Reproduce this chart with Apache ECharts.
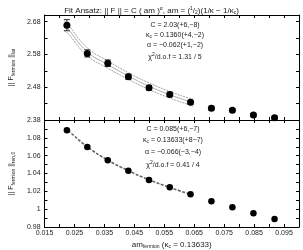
<!DOCTYPE html>
<html>
<head>
    <meta charset="UTF-8">
    <title>Fit Ansatz</title>
    <style>
        html, body { margin: 0; padding: 0; width: 100%; height: 100%; overflow: hidden; background: #fff; }
        #main { width: 303px; height: 250px; }
    </style>
    <script src="https://cdn.jsdelivr.net/npm/echarts@6/dist/echarts.min.js"></script>
</head>
<body>
    <div id="main"></div>
    <script>
        // am_fermion values (kappa_c = 0.13633)
        const amValues = [0.02247, 0.02929, 0.03613, 0.04301, 0.04990, 0.05683, 0.06377, 0.07075, 0.07775, 0.08478, 0.09183];

        // top panel: ||F|| with errors
        const normTop = [2.669, 2.583, 2.553, 2.512, 2.478, 2.458, 2.434, 2.416, 2.410, 2.395, 2.387];
        const errTop = [0.017, 0.011, 0.010, 0.008, 0.007, 0.007, 0.006, 0.006, 0.005, 0.005, 0.005];

        // bottom panel
        const normBottom = [1.0884, 1.0697, 1.0548, 1.0432, 1.0327, 1.0245, 1.0167, 1.0090, 1.0021, 0.9954, 0.9890];

        // fit curves
        const fitTopX = [0.0215, 0.02247, 0.02929, 0.03613, 0.04301, 0.04990, 0.05683, 0.06377, 0.0645];
        const fitTopMid = [2.668, 2.661, 2.588, 2.549, 2.514, 2.483, 2.457, 2.435, 2.433];
        const fitTopHi = [2.683, 2.675, 2.600, 2.560, 2.524, 2.493, 2.467, 2.445, 2.444];
        const fitTopLo = [2.653, 2.647, 2.576, 2.538, 2.504, 2.473, 2.447, 2.425, 2.422];
        const fitBotX = [0.0215, 0.02247, 0.02929, 0.03613, 0.04301, 0.04990, 0.05683, 0.06377];
        const fitBot = [1.0905, 1.0890, 1.0700, 1.0550, 1.0432, 1.0330, 1.0245, 1.0165];

        // ticks and labels
        const xTicks = [0.015, 0.02, 0.025, 0.03, 0.035, 0.04, 0.045, 0.05, 0.055, 0.06, 0.065, 0.07, 0.075, 0.08, 0.085, 0.09, 0.095, 0.1];
        const xLabels = [0.015, 0.025, 0.035, 0.045, 0.055, 0.065, 0.075, 0.085, 0.095];
        const yTopTicks = [2.38, 2.43, 2.48, 2.53, 2.58, 2.63, 2.68];
        const yTopLabels = [2.38, 2.48, 2.58, 2.68];
        const yBotTicks = [0.98, 0.99, 1.0, 1.01, 1.02, 1.03, 1.04, 1.05, 1.06, 1.07, 1.08, 1.09, 1.1];
        const yBotLabels = [0.98, 1.0, 1.02, 1.04, 1.06, 1.08];

        const fitTextTop = ['C = 2.03(+6,\u22128)', '{i|\u03ba}{s|c} = 0.1360(+4,\u22122)', '\u03b1 = \u22120.062(+1,\u22122)', '{i|\u03c7}{p|2}/d.o.f = 1.31 / 5'];
        const fitTextBot = ['C = 0.085(+6,\u22127)', '{i|\u03ba}{s|c} = 0.13633(+8\u22127)', '\u03b1 = \u22120.066(\u22123,\u22124)', '{i|\u03c7}{p|2}/d.o.f = 0.41 / 4'];

        const font = 'Liberation Sans, Arial, sans-serif';
        const ink = '#222';
        const richSmall = {
            s: { fontSize: 5, verticalAlign: 'bottom', padding: [4, 0, 0, 0], fontFamily: font, color: ink },
            p: { fontSize: 5, verticalAlign: 'top', padding: [0, 0, 4, 0], fontFamily: font, color: ink },
            i: { fontSize: 7, fontFamily: font, color: ink }
        };

        function pairs(xs, ys) { return xs.map((x, i) => [x, ys[i]]); }

        function xAxisFor(grid, pos, withLabels) {
            return {
                type: 'value', gridIndex: grid, position: pos, min: 0.015, max: 0.1,
                axisLine: { show: true, onZero: false, lineStyle: { color: '#000', width: 1 } },
                axisTick: { show: true, inside: true, length: 3, customValues: xTicks, lineStyle: { color: '#000' } },
                axisLabel: { show: withLabels, customValues: xLabels, fontSize: 7, color: ink, fontFamily: font, margin: 3,
                    formatter: v => v.toFixed(3) },
                splitLine: { show: false }
            };
        }
        function yAxisFor(grid, pos, min, max, ticks, labels, withLabels, fmt) {
            return {
                type: 'value', gridIndex: grid, position: pos, min: min, max: max,
                axisLine: { show: true, onZero: false, lineStyle: { color: '#000', width: 1 } },
                axisTick: { show: true, inside: true, length: 3, customValues: ticks, lineStyle: { color: '#000' } },
                axisLabel: { show: withLabels, customValues: labels, fontSize: 7, color: ink, fontFamily: font, margin: 4, formatter: fmt },
                splitLine: { show: false }
            };
        }

        const chart = echarts.init(document.getElementById('main'), null, { renderer: 'canvas' });

        const option = {
            animation: false,
            backgroundColor: '#fff',
            title: {
                text: 'Fit Ansatz: || F || = C ( am )' + '{p|\u03b1}' + ', am = ({p|1}/{s|2})(1/\u03ba \u2212 1/\u03ba{s|c})',
                left: 'center', top: 1,
                textStyle: { fontSize: 8, fontWeight: 'normal', color: ink, fontFamily: font, rich: {
                    p: { fontSize: 5, verticalAlign: 'top', padding: [0, 0, 4, 0], color: ink, fontFamily: font },
                    s: { fontSize: 5, verticalAlign: 'bottom', padding: [4, 0, 0, 0], color: ink, fontFamily: font }
                } }
            },
            grid: [
                { left: 27, right: 4, top: 15, height: 105 },
                { left: 27, right: 4, top: 120, height: 107 }
            ],
            xAxis: [
                xAxisFor(0, 'bottom', false),
                xAxisFor(0, 'top', false),
                Object.assign(xAxisFor(1, 'bottom', true), {
                    name: 'am{s|fermion} (\u03ba{s|c} = 0.13633)', nameLocation: 'middle', nameGap: 13,
                    nameTextStyle: { fontSize: 8, color: ink, fontFamily: font, rich: {
                        s: { fontSize: 5, verticalAlign: 'bottom', padding: [4, 0, 0, 0], color: ink, fontFamily: font }
                    } }
                }),
                xAxisFor(1, 'top', false)
            ],
            yAxis: [
                Object.assign(yAxisFor(0, 'left', 2.38, 2.7, yTopTicks, yTopLabels, true, v => v.toFixed(2)), {
                    name: '|| F{s|fermion} ||{s|lat}', nameLocation: 'middle', nameGap: 20,
                    nameTextStyle: { fontSize: 7, color: ink, fontFamily: font, rich: {
                        s: { fontSize: 5, verticalAlign: 'bottom', padding: [4, 0, 0, 0], color: ink, fontFamily: font }
                    } }
                }),
                yAxisFor(0, 'right', 2.38, 2.7, yTopTicks, yTopLabels, false),
                Object.assign(yAxisFor(1, 'left', 0.98, 1.1, yBotTicks, yBotLabels, true,
                    v => (Math.abs(v - 1) < 1e-9 ? '1' : v.toFixed(2))), {
                    name: '|| F{s|fermion} ||{s|ren,0}', nameLocation: 'middle', nameGap: 20,
                    nameTextStyle: { fontSize: 7, color: ink, fontFamily: font, rich: {
                        s: { fontSize: 5, verticalAlign: 'bottom', padding: [4, 0, 0, 0], color: ink, fontFamily: font }
                    } }
                }),
                yAxisFor(1, 'right', 0.98, 1.1, yBotTicks, yBotLabels, false)
            ],
            series: [
                { type: 'line', xAxisIndex: 0, yAxisIndex: 0, data: pairs(fitTopX, fitTopHi), smooth: true, showSymbol: false,
                  lineStyle: { color: '#777', width: 0.7, type: [2, 1] }, z: 2 },
                { type: 'line', xAxisIndex: 0, yAxisIndex: 0, data: pairs(fitTopX, fitTopMid), smooth: true, showSymbol: false,
                  lineStyle: { color: '#888', width: 0.7 }, z: 2 },
                { type: 'line', xAxisIndex: 0, yAxisIndex: 0, data: pairs(fitTopX, fitTopLo), smooth: true, showSymbol: false,
                  lineStyle: { color: '#777', width: 0.7, type: [2, 1] }, z: 2 },
                {
                    type: 'custom', xAxisIndex: 0, yAxisIndex: 0, z: 3,
                    data: amValues.map((x, i) => [x, normTop[i] - errTop[i], normTop[i] + errTop[i]]),
                    renderItem: function (params, api) {
                        const lo = api.coord([api.value(0), api.value(1)]);
                        const hi = api.coord([api.value(0), api.value(2)]);
                        const st = { stroke: '#000', lineWidth: 0.8 };
                        return { type: 'group', children: [
                            { type: 'line', shape: { x1: lo[0], y1: lo[1], x2: hi[0], y2: hi[1] }, style: st },
                            { type: 'line', shape: { x1: lo[0] - 3, y1: lo[1], x2: lo[0] + 3, y2: lo[1] }, style: st },
                            { type: 'line', shape: { x1: hi[0] - 3, y1: hi[1], x2: hi[0] + 3, y2: hi[1] }, style: st }
                        ] };
                    }
                },
                { type: 'scatter', xAxisIndex: 0, yAxisIndex: 0, data: pairs(amValues, normTop), symbol: 'circle', symbolSize: 7,
                  itemStyle: { color: '#000', opacity: 1 }, z: 4 },
                { type: 'line', xAxisIndex: 2, yAxisIndex: 2, data: pairs(fitBotX, fitBot), smooth: true, showSymbol: false,
                  lineStyle: { color: '#666', width: 1.6, type: [3, 1.5] }, z: 2 },
                { type: 'scatter', xAxisIndex: 2, yAxisIndex: 2, data: pairs(amValues, normBottom), symbol: 'circle', symbolSize: 6.5,
                  itemStyle: { color: '#000', opacity: 1 }, z: 4 }
            ],
            graphic: [
                ...fitTextTop.map((t, i) => ({ type: 'text', x: 175, y: [25, 35, 45, 57][i], style: {
                    text: t, fontSize: 7, fill: ink, fontFamily: font, align: 'center', verticalAlign: 'middle', rich: richSmall } })),
                ...fitTextBot.map((t, i) => ({ type: 'text', x: 173, y: [129, 140, 152, 165][i], style: {
                    text: t, fontSize: 7, fill: ink, fontFamily: font, align: 'center', verticalAlign: 'middle', rich: richSmall } }))
            ]
        };

        chart.setOption(option);
    </script>
</body>
</html>
